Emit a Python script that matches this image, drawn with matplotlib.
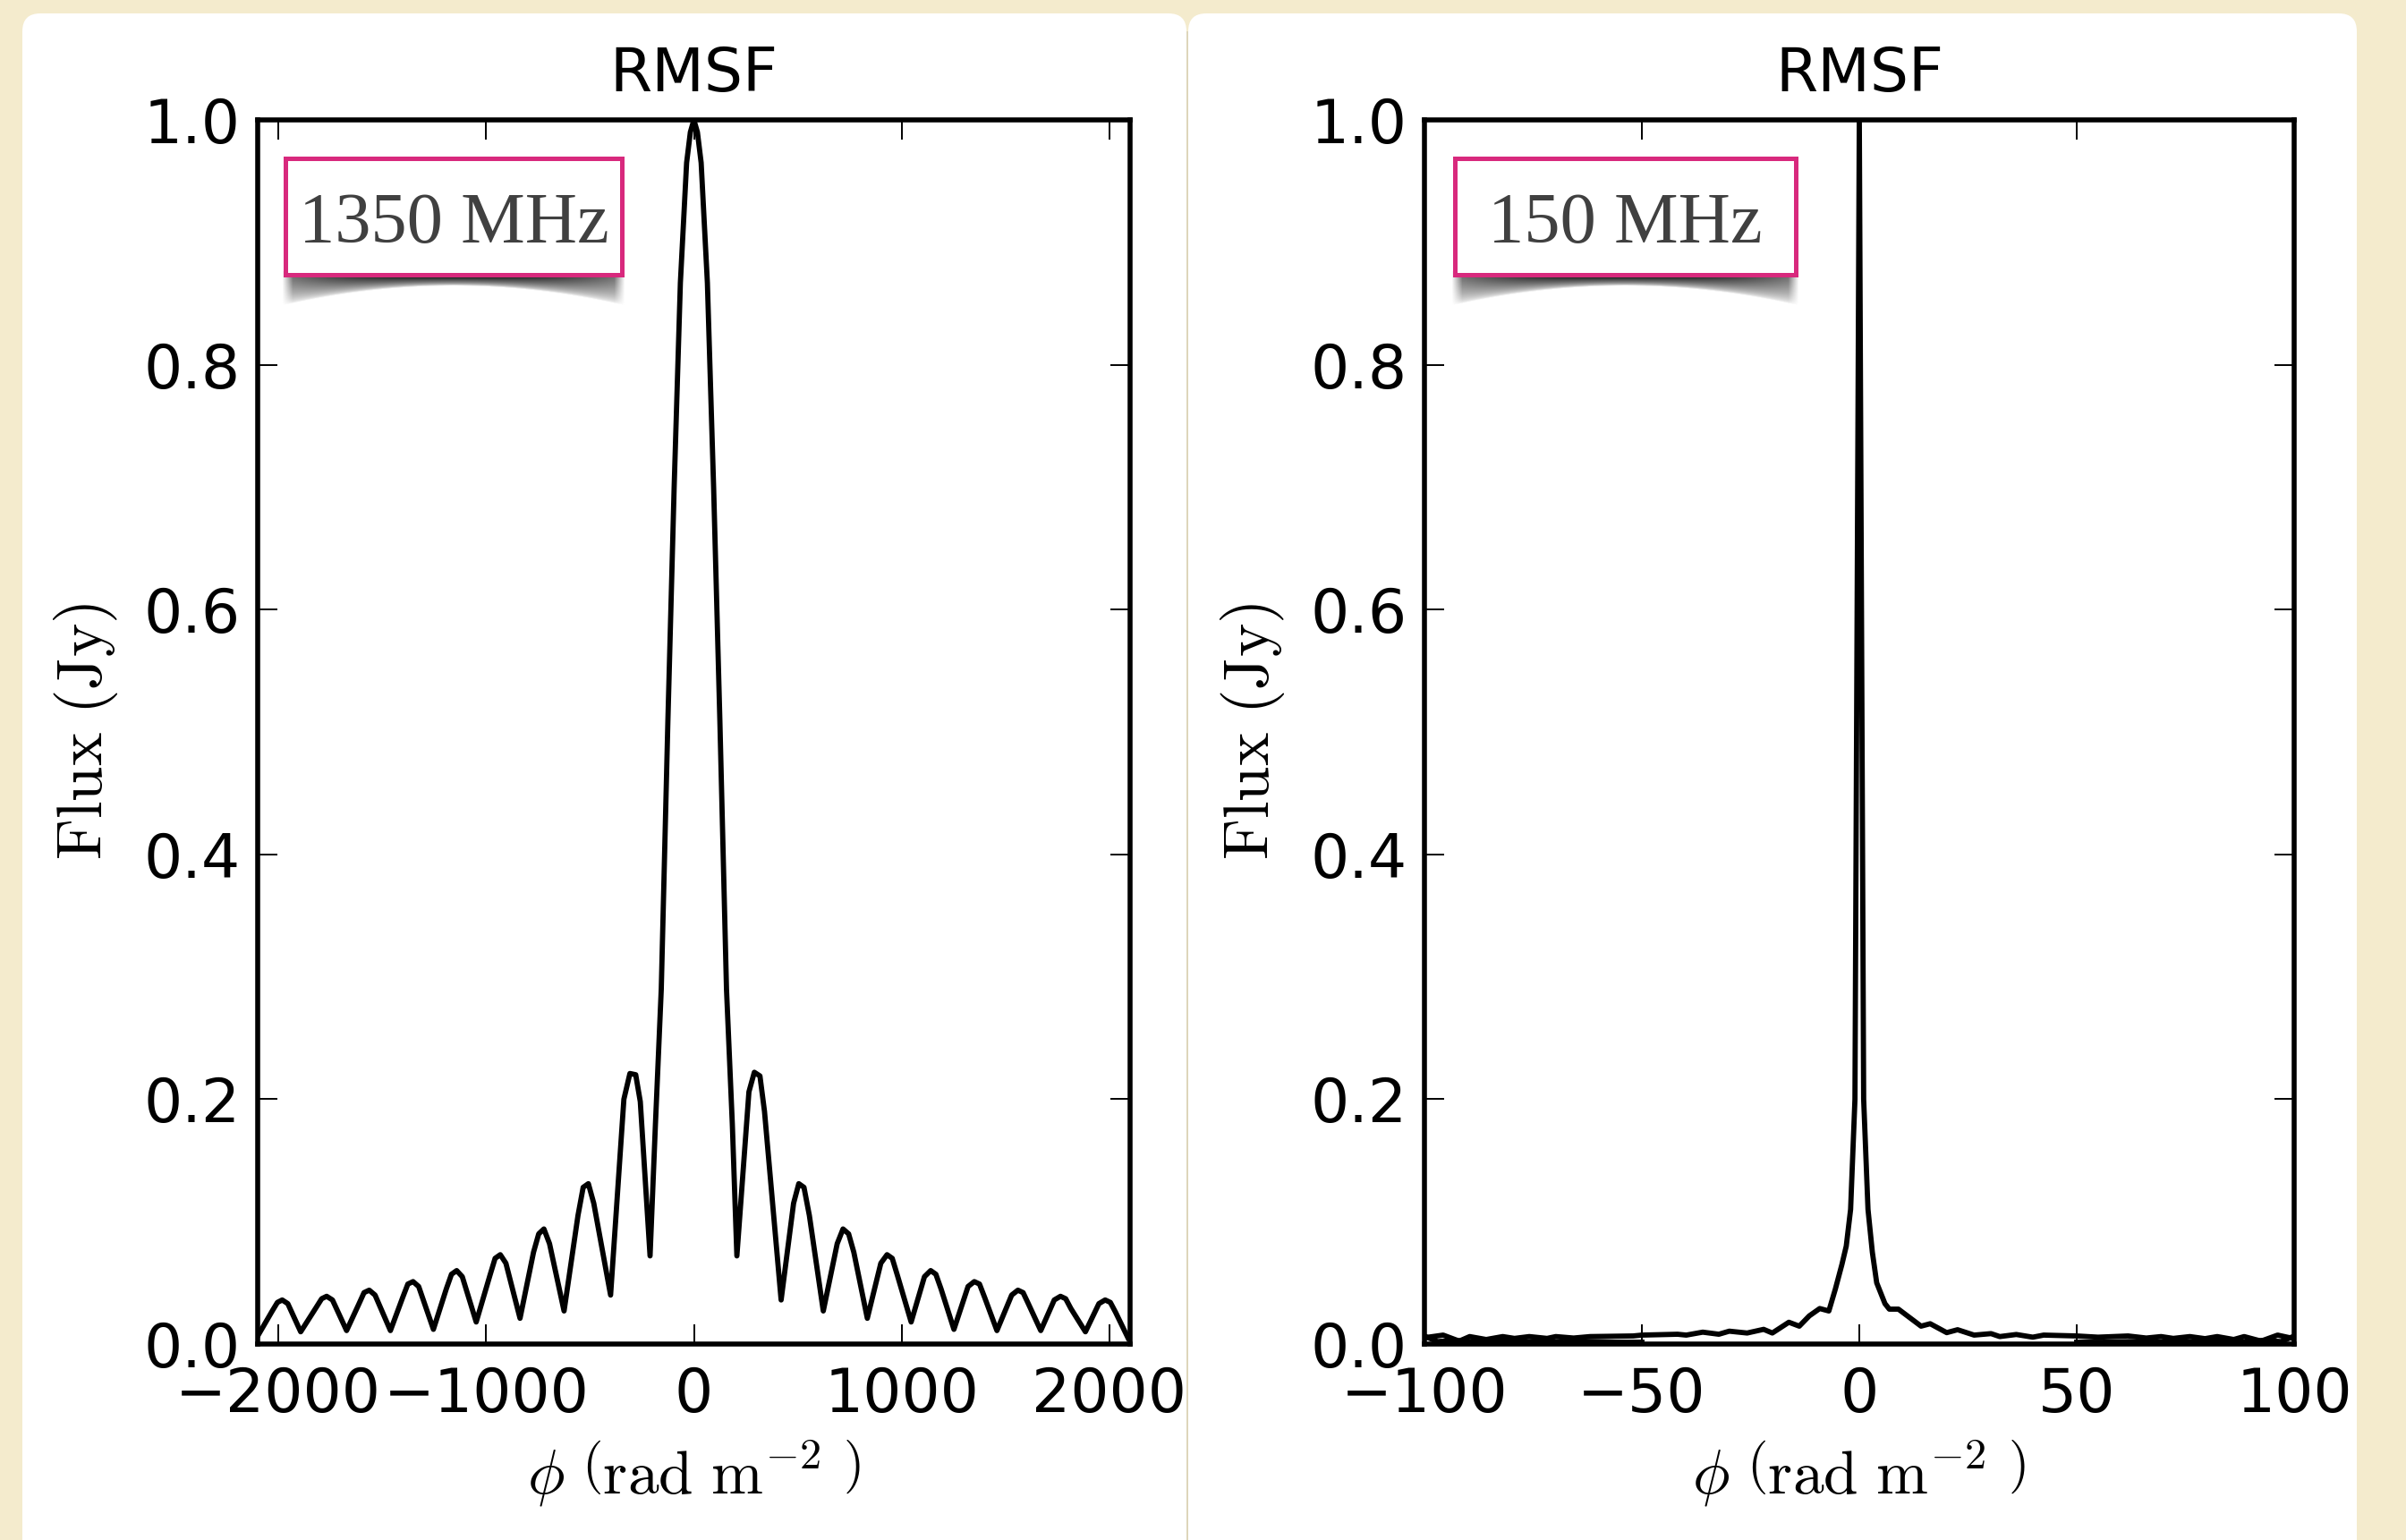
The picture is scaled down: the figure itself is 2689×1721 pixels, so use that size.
import numpy as np
import matplotlib.pyplot as plt
from matplotlib.patches import FancyBboxPatch, Rectangle

# RMSF at 1350 MHz (phi in rad m^-2, flux in Jy)
phi_1350 = [-2095, -2030, -2005, -1982, -1955, -1893, -1818, -1792, -1768, -1740,
            -1672, -1612, -1588, -1563, -1535, -1461, -1402, -1377, -1352, -1325,
            -1254, -1192, -1167, -1142, -1115, -1048, -982, -957, -932, -905,
            -837, -772, -747, -722, -695, -625, -558, -533, -508, -482,
            -401, -337, -308, -280, -258, -211, -185, -157, -125, -95,
            -65, -35, -17, 0, 17, 35, 65, 95, 125, 157,
            185, 207, 265, 291, 318, 340, 420, 480, 505, 530,
            556, 623, 690, 718, 745, 770, 835, 900, 930, 955,
            980, 1046, 1110, 1140, 1165, 1190, 1252, 1320, 1350, 1375,
            1400, 1459, 1530, 1560, 1585, 1610, 1670, 1735, 1765, 1790,
            1815, 1885, 1950, 1980, 2005, 2030, 2090]
flux_1350 = [0.008, 0.027, 0.034, 0.036, 0.033, 0.010, 0.030, 0.037, 0.039, 0.036,
             0.011, 0.033, 0.042, 0.044, 0.040, 0.011, 0.038, 0.049, 0.051, 0.047,
             0.012, 0.045, 0.057, 0.060, 0.055, 0.018, 0.056, 0.070, 0.073, 0.066,
             0.021, 0.075, 0.090, 0.094, 0.082, 0.027, 0.105, 0.128, 0.131, 0.115,
             0.040, 0.200, 0.221, 0.220, 0.198, 0.072, 0.180, 0.290, 0.510, 0.700,
             0.867, 0.965, 0.990, 1.000, 0.990, 0.965, 0.867, 0.700, 0.510, 0.290,
             0.180, 0.072, 0.206, 0.222, 0.219, 0.190, 0.036, 0.115, 0.131, 0.128,
             0.105, 0.027, 0.082, 0.094, 0.090, 0.075, 0.021, 0.066, 0.073, 0.070,
             0.056, 0.018, 0.055, 0.060, 0.057, 0.045, 0.012, 0.047, 0.051, 0.049,
             0.038, 0.011, 0.040, 0.044, 0.042, 0.033, 0.011, 0.036, 0.039, 0.037,
             0.029, 0.010, 0.033, 0.036, 0.034, 0.026, 0.005]

# RMSF at 150 MHz
phi_150 = [-99.1, -95.7, -92.0, -89.6, -85.8, -82.0, -79.3, -75.9, -71.8, -69.8,
           -65.7, -61.9, -52.0, -50.0, -41.8, -39.8, -36.0, -32.3, -29.9, -25.8,
           -22.0, -20.0, -16.2, -13.8, -11.5, -9.1, -7.0, -5.5, -4.0, -3.0,
           -2.0, -1.0, 0.0, 1.0, 2.0, 3.0, 4.0, 5.9, 6.9, 9.0,
           14.2, 16.3, 20.1, 22.6, 26.4, 30.3, 32.3, 36.1, 39.9, 42.4,
           50.0, 54.9, 61.8, 66.0, 69.4, 72.2, 76.0, 79.5, 82.3, 86.1,
           88.5, 92.4, 96.2, 99.3]
flux_150 = [0.0056, 0.0073, 0.0024, 0.0061, 0.0037, 0.0061, 0.0046, 0.0061, 0.0046, 0.0061,
            0.0049, 0.0061, 0.0066, 0.0073, 0.0080, 0.0073, 0.0097, 0.0080, 0.0105, 0.0090,
            0.0120, 0.0090, 0.0178, 0.0146, 0.0230, 0.0290, 0.0270, 0.0450, 0.0650, 0.0800,
            0.1100, 0.2000, 1.0000, 0.2000, 0.1100, 0.0750, 0.0500, 0.0330, 0.0285, 0.0285,
            0.0146, 0.0166, 0.0093, 0.0117, 0.0073, 0.0085, 0.0061, 0.0078, 0.0056, 0.0073,
            0.0066, 0.0056, 0.0066, 0.0049, 0.0061, 0.0046, 0.0061, 0.0044, 0.0061, 0.0037,
            0.0061, 0.0024, 0.0073, 0.0049]
# second, lower trace visible in the outer wings
phi_150_low = [-100, -97, -93, -88, -83, -78, -73, -68, -62, -56, -50, np.nan,
               50, 56, 62, 68, 73, 78, 83, 88, 93, 97, 100]
flux_150_low = [0.0065, 0.0020, 0.0030, 0.0015, 0.0025, 0.0015, 0.0025, 0.0015, 0.0020, 0.0015, 0.0015, np.nan,
                0.0015, 0.0015, 0.0020, 0.0015, 0.0025, 0.0015, 0.0025, 0.0015, 0.0030, 0.0020, 0.0065]

labels = ['1350 MHz', '150 MHz']
xticks = [[-2000, -1000, 0, 1000, 2000], [-100, -50, 0, 50, 100]]
xlims = [(-2100, 2100), (-100, 100)]

W, H = 2689, 1721
plt.rcParams['mathtext.fontset'] = 'cm'

fig = plt.figure(figsize=(W / 100, H / 100), dpi=100)
fig.patch.set_facecolor('#f4ebcd')

# background: paper cards
bg = fig.add_axes([0, 0, 1, 1], zorder=0)
bg.set_xlim(0, W)
bg.set_ylim(H, 0)
bg.axis('off')
for x0, x1 in [(25, 1326), (1328, 2634)]:
    bg.add_patch(FancyBboxPatch((x0, 15), x1 - x0, H + 40, boxstyle='round,pad=0,rounding_size=20',
                                fc='white', ec='none'))
grad = np.linspace(0, 1, 60) ** 2
shade = np.zeros((2, 60, 4))
shade[..., 3] = 0.09 * grad
bg.imshow(shade, extent=(1268, 1328, H, 35), aspect='auto', interpolation='bilinear')

# plot panels
ax_pos = [[288 / W, 1 - 1502 / H, 975 / W, 1368 / H],
          [1592 / W, 1 - 1502 / H, 972 / W, 1368 / H]]
series = [[(phi_1350, flux_1350)], [(phi_150, flux_150), (phi_150_low, flux_150_low)]]

for i in range(2):
    ax = fig.add_axes(ax_pos[i], zorder=1)
    ax.set_facecolor('white')
    for px, fy in series[i]:
        ax.plot(px, fy, color='black', lw=4.2)
    ax.set_xlim(*xlims[i])
    ax.set_ylim(0, 1.0)
    ax.set_xticks(xticks[i])
    ax.set_yticks([0.0, 0.2, 0.4, 0.6, 0.8, 1.0])
    ax.set_yticklabels(['0.0', '0.2', '0.4', '0.6', '0.8', '1.0'])
    ax.tick_params(direction='in', top=True, right=True, length=16, width=1.4, labelsize=49)
    ax.tick_params(axis='x', pad=17)
    ax.tick_params(axis='y', pad=14)
    for s in ax.spines.values():
        s.set_linewidth(4)
    ax.set_title('RMSF', fontsize=49, pad=23)
    ax.set_ylabel(r'$\mathrm{Flux\ (Jy)}$', fontsize=51)
    ax.yaxis.set_label_coords(-0.158, 0.5)
    ax.set_xlabel(r'$\phi\ \left(\mathrm{rad\ m^{-2}}\ \right)$', fontsize=50)
    ax.xaxis.set_label_coords(0.5, -0.077)

# overlay: frequency tags with lifted-paper shadow
ov = fig.add_axes([0, 0, 1, 1], zorder=5)
ov.set_xlim(0, W)
ov.set_ylim(H, 0)
ov.axis('off')
ov.patch.set_alpha(0)

boxes = [(319, 177, 695, 307), (1626, 177, 2007, 307)]
for (x0, y0, x1, y1), lab in zip(boxes, labels):
    sx = np.arange(x0 - 8, x1 + 9)
    sy = np.arange(y1 - 4, y1 + 40)
    X, Y = np.meshgrid(sx, sy)
    u = np.clip((X - (x0 + x1) / 2) / ((x1 - x0) / 2), -1.2, 1.2)
    depth = 12 + 22 * u ** 2
    amp = 1.0 - 0.45 * u ** 2
    t = np.clip(1 - (Y - y1) / depth, 0, 1) ** 0.6
    edge = np.clip((x1 - x0) / 2 + 4 - np.abs(X - (x0 + x1) / 2), 0, 12) / 12
    img = np.zeros(X.shape + (4,))
    img[..., 3] = amp * t * edge
    ov.imshow(img, extent=(sx[0], sx[-1], sy[-1], sy[0]), aspect='auto', interpolation='bilinear')
    ov.add_patch(Rectangle((x0, y0), x1 - x0, y1 - y0, fc='white', ec='#d8297d', lw=3.6))
    ov.text((x0 + x1) / 2, (y0 + y1) / 2 + 10, lab, fontsize=58, family='Liberation Serif',
            color='#404040', ha='center', va='center')

ov.set_xlim(0, W)
ov.set_ylim(H, 0)

fig.savefig('out.png', dpi=100, facecolor=fig.get_facecolor())
